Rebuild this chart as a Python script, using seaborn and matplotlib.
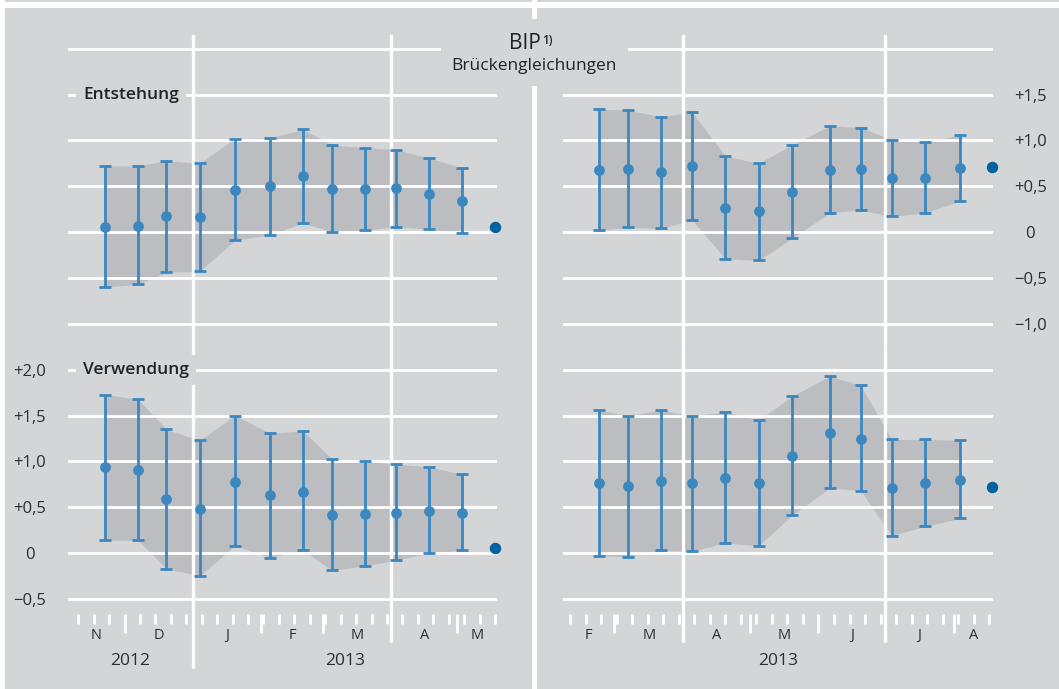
import numpy as np
import pandas as pd
import seaborn as sns
import matplotlib.pyplot as plt
import matplotlib.dates as mdates
from matplotlib.patches import Rectangle

# Prognosezeitpunkte der Brückengleichungen (links: 1. Vj. 2013, rechts: 2. Vj. 2013)
dates_q1 = ["2012-11-22", "2012-12-07", "2012-12-20", "2013-01-04", "2013-01-20", "2013-02-05",
            "2013-02-20", "2013-03-05", "2013-03-20", "2013-04-03", "2013-04-18", "2013-05-03"]
dates_q2 = ["2013-02-22", "2013-03-07", "2013-03-22", "2013-04-05", "2013-04-20", "2013-05-05",
            "2013-05-20", "2013-06-06", "2013-06-20", "2013-07-04", "2013-07-19", "2013-08-04"]
release_q1 = "2013-05-18"
release_q2 = "2013-08-18"

# Entstehung
ent_q1_mid = [0.05, 0.07, 0.17, 0.16, 0.46, 0.50, 0.61, 0.47, 0.47, 0.48, 0.42, 0.34]
ent_q1_low = [-0.60, -0.57, -0.44, -0.43, -0.09, -0.03, 0.10, 0.00, 0.02, 0.06, 0.03, -0.01]
ent_q1_high = [0.72, 0.72, 0.78, 0.75, 1.02, 1.03, 1.12, 0.95, 0.92, 0.90, 0.81, 0.70]
ent_q1_actual = 0.05

ent_q2_mid = [0.68, 0.69, 0.65, 0.72, 0.26, 0.23, 0.44, 0.68, 0.69, 0.59, 0.59, 0.70]
ent_q2_low = [0.02, 0.05, 0.04, 0.13, -0.29, -0.31, -0.07, 0.21, 0.24, 0.17, 0.21, 0.34]
ent_q2_high = [1.34, 1.33, 1.26, 1.31, 0.83, 0.75, 0.95, 1.16, 1.14, 1.01, 0.98, 1.06]
ent_q2_actual = 0.71

# Verwendung
ver_q1_mid = [0.94, 0.91, 0.59, 0.48, 0.78, 0.63, 0.67, 0.42, 0.43, 0.44, 0.46, 0.44]
ver_q1_low = [0.14, 0.14, -0.17, -0.25, 0.08, -0.05, 0.03, -0.19, -0.14, -0.08, 0.00, 0.03]
ver_q1_high = [1.73, 1.68, 1.35, 1.23, 1.50, 1.31, 1.33, 1.03, 1.00, 0.97, 0.94, 0.86]
ver_q1_actual = 0.05

ver_q2_mid = [0.76, 0.73, 0.79, 0.76, 0.82, 0.76, 1.06, 1.31, 1.25, 0.71, 0.76, 0.80]
ver_q2_low = [-0.03, -0.04, 0.03, 0.02, 0.11, 0.08, 0.41, 0.71, 0.68, 0.19, 0.29, 0.38]
ver_q2_high = [1.56, 1.50, 1.56, 1.50, 1.54, 1.45, 1.71, 1.93, 1.83, 1.24, 1.24, 1.23]
ver_q2_actual = 0.72

top_ticks = [-1.0, -0.5, 0.0, 0.5, 1.0, 1.5, 2.0]
top_labels = ["\u22121,0", "\u22120,5", "0", "+0,5", "+1,0", "+1,5", ""]
bot_ticks = [-0.5, 0.0, 0.5, 1.0, 1.5, 2.0]
bot_labels = ["\u22120,5", "0", "+0,5", "+1,0", "+1,5", "+2,0"]

xlim_q1 = ("2012-11-05 08:00", "2013-05-18 22:00")
xlim_q2 = ("2013-02-05 20:00", "2013-08-18 16:00")
qlines_q1 = ["2013-01-01", "2013-04-01"]
qlines_q2 = ["2013-04-01", "2013-07-01"]
MONTHS = "JFMAMJJASOND"

sns.set_theme(style="white")
plt.rcParams['font.family'] = ['Open Sans', 'DejaVu Sans']

BG = '#d4d5d7'
BAND = '#bcbdc0'
BLUE = '#3b87bf'
DARK = '#0062a3'
TXT = '#2e2e2e'

W, H = 1059, 689
fig = plt.figure(figsize=(W / 100, H / 100), dpi=100, facecolor='white')


def rect(x0, y0, x1, y1, color, z):
    fig.add_artist(Rectangle((x0 / W, 1 - y1 / H), (x1 - x0) / W, (y1 - y0) / H,
                             transform=fig.transFigure, facecolor=color,
                             edgecolor='none', zorder=z))


def add_ax(x0, y0, x1, y1):
    ax = fig.add_axes([x0 / W, 1 - y1 / H, (x1 - x0) / W, (y1 - y0) / H])
    ax.set_facecolor('none')
    for s in ax.spines.values():
        s.set_visible(False)
    return ax


# hintergrund
rect(5, 7.7, 531.7, H, BG, -1)
rect(536.7, 7.7, W, H, BG, -1)
rect(5, 0, 531.7, 1.7, BG, -1)
rect(536.7, 0, W, 1.7, BG, -1)
rect(441, 19, 628, 86, BG, 2)


def panel(ax, dates, mid, low, high, rel, actual, xlim, qlines, bottom):
    d = pd.to_datetime(dates)
    mid, low, high = np.asarray(mid), np.asarray(low), np.asarray(high)
    ax.fill_between(d, low, high, color=BAND, lw=0, zorder=0.2)
    ax.errorbar(d, mid, yerr=[mid - low, high - mid], fmt='none', ecolor=BLUE,
                elinewidth=2, capsize=4.3, capthick=2, zorder=3)
    sns.scatterplot(x=d, y=mid, ax=ax, color=BLUE, s=60, linewidth=0, zorder=4)
    sns.scatterplot(x=[pd.Timestamp(rel)], y=[actual], ax=ax, color=DARK, s=68,
                    linewidth=0, zorder=4, clip_on=False)
    ax.set_xlabel('')
    ax.set_ylabel('')
    x0, x1 = pd.Timestamp(xlim[0]), pd.Timestamp(xlim[1])
    ax.set_xlim(x0, x1)
    if bottom:
        ax.set_ylim(-0.666, 2.249)
        ax.set_yticks(bot_ticks)
    else:
        ax.set_ylim(-1.255, 2.151)
        ax.set_yticks(top_ticks)
    ax.grid(axis='y', color='white', lw=2.0)
    ax.grid(axis='x', visible=False)
    ax.set_axisbelow(True)
    ax.tick_params(axis='y', left=False, right=False, labelleft=False, labelright=False)

    for q in qlines:
        qd = pd.Timestamp(q)
        if bottom:
            ext = -0.1985 if qd.month == 1 else -0.1
            ax.axvline(mdates.date2num(qd), ymin=ext, ymax=1, color='white', lw=2.4,
                       zorder=0.6, clip_on=False)
        else:
            ax.axvline(mdates.date2num(qd), color='white', lw=2.4, zorder=0.6)

    if bottom:
        ax.xaxis.set_major_locator(mdates.MonthLocator())
        ax.xaxis.set_minor_locator(mdates.WeekdayLocator(byweekday=mdates.SA))
        ax.tick_params(axis='x', which='both', bottom=True, direction='out',
                       color='white', width=2, labelbottom=False)
        ax.tick_params(axis='x', which='major', length=13.5)
        ax.tick_params(axis='x', which='minor', length=7.2)
        tr = ax.get_xaxis_transform()
        m = x0.to_period('M').to_timestamp()
        while m < x1:
            nxt = m + pd.offsets.MonthBegin(1)
            a, b = max(m, x0), min(nxt, x1)
            ax.text(mdates.date2num(a + (b - a) / 2), -0.081, MONTHS[m.month - 1],
                    transform=tr, ha='center', va='center', fontsize=10.5, color=TXT)
            m = nxt
        for yr in range(x0.year, x1.year + 1):
            a = max(pd.Timestamp(yr, 1, 1), x0)
            b = min(pd.Timestamp(yr + 1, 1, 1), x1)
            ax.text(mdates.date2num(a + (b - a) / 2), -0.175, str(yr), transform=tr,
                    ha='center', va='center', fontsize=12.5, color=TXT)
    else:
        ax.tick_params(axis='x', which='both', bottom=False, labelbottom=False)


ax_tl = add_ax(68, 35, 497, 347)
ax_tr = add_ax(563, 35, 993, 347)
ax_bl = add_ax(68, 347, 497, 614)
ax_br = add_ax(563, 347, 993, 614)

panel(ax_tl, dates_q1, ent_q1_mid, ent_q1_low, ent_q1_high, release_q1, ent_q1_actual,
      xlim_q1, qlines_q1, False)
panel(ax_tr, dates_q2, ent_q2_mid, ent_q2_low, ent_q2_high, release_q2, ent_q2_actual,
      xlim_q2, qlines_q2, False)
panel(ax_bl, dates_q1, ver_q1_mid, ver_q1_low, ver_q1_high, release_q1, ver_q1_actual,
      xlim_q1, qlines_q1, True)
panel(ax_br, dates_q2, ver_q2_mid, ver_q2_low, ver_q2_high, release_q2, ver_q2_actual,
      xlim_q2, qlines_q2, True)

# y-Achsen Beschriftungen
ax_bl.set_yticklabels(bot_labels)
ax_bl.tick_params(axis='y', labelleft=True, pad=21.6, labelsize=12, labelcolor=TXT)
for t in ax_bl.get_yticklabels():
    t.set_ha('center')
ax_tr.set_yticklabels(top_labels)
ax_tr.tick_params(axis='y', labelright=True, pad=20.9, labelsize=12, labelcolor=TXT)
for t in ax_tr.get_yticklabels():
    t.set_ha('center')

box = dict(boxstyle='square,pad=0.42', fc=BG, ec='none')
ax_tl.text(0.035, 1.5, "Entstehung", transform=ax_tl.get_yaxis_transform(), ha='left',
           va='center', fontsize=12.5, fontweight='semibold', color='#222222', bbox=box, zorder=5)
ax_bl.text(0.035, 2.0, "Verwendung", transform=ax_bl.get_yaxis_transform(), ha='left',
           va='center', fontsize=12.5, fontweight='semibold', color='#222222', bbox=box, zorder=5)

# Titel
fig.text(525 / W, 1 - 49.3 / H, "BIP", ha='center', va='baseline', fontsize=15,
         fontweight='medium', color='#222222', zorder=3)
fig.text(542 / W, 1 - 44.5 / H, "1)", ha='left', va='baseline', fontsize=8.5,
         fontweight='semibold', color='#222222', zorder=3)
fig.text(534 / W, 1 - 70 / H, "Brückengleichungen", ha='center', va='baseline',
         fontsize=12.5, color='#222222', zorder=3)

fig.savefig("out.png", dpi=100)
